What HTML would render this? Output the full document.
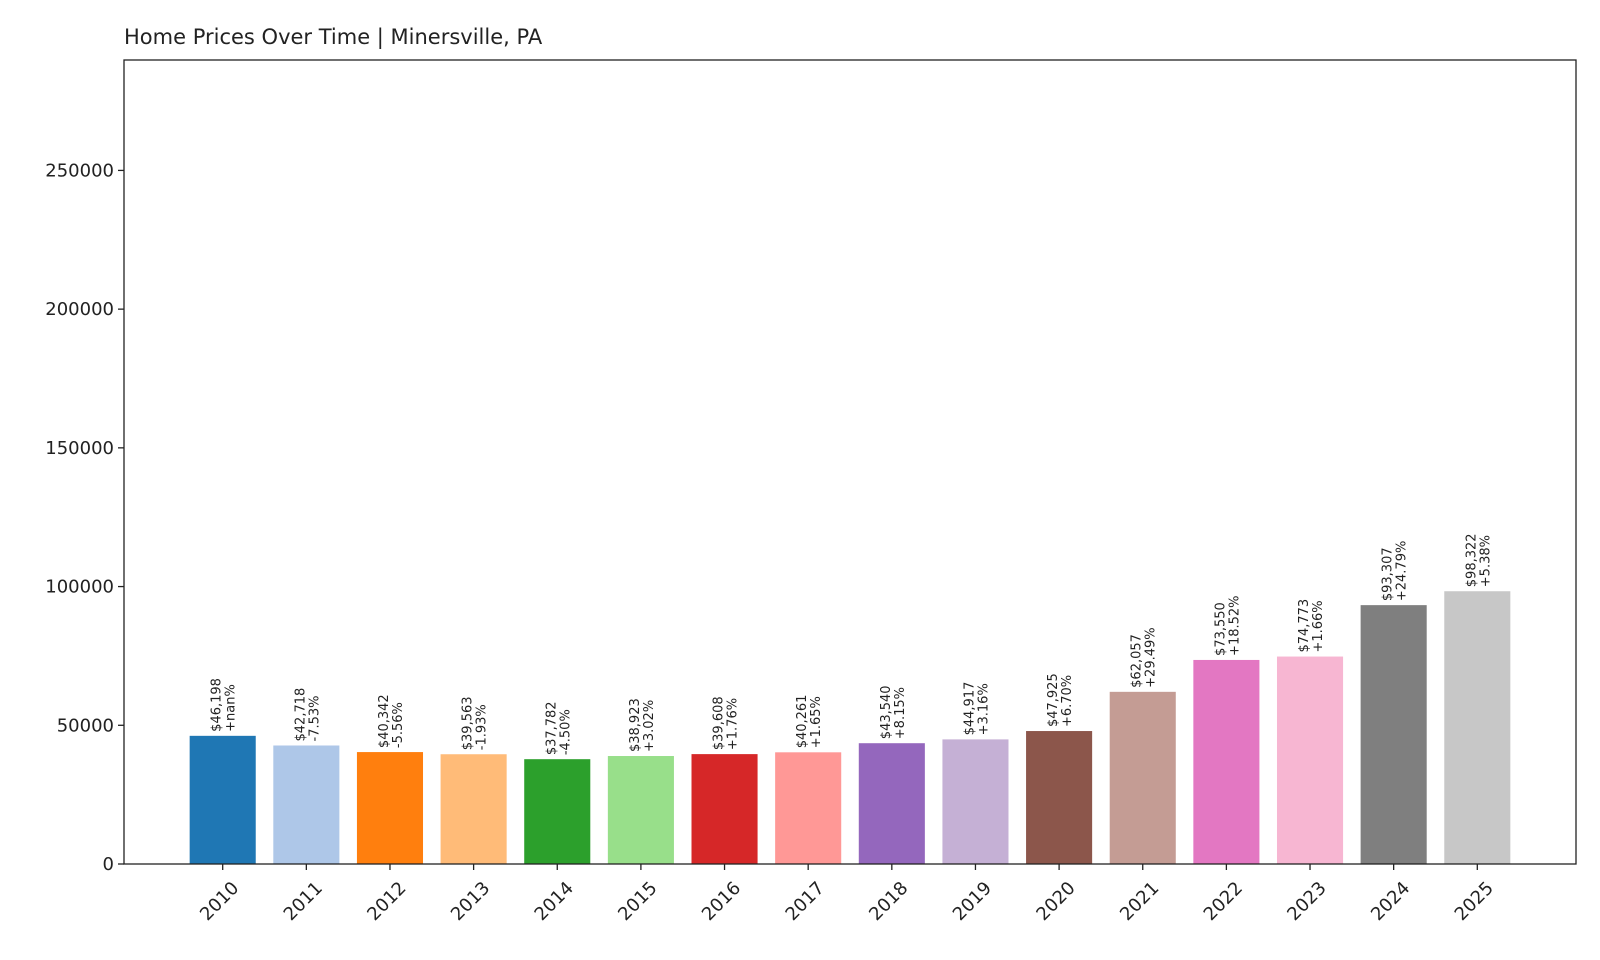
<!DOCTYPE html>
<html><head><meta charset="utf-8"><style>
body{margin:0;background:#fff;}
svg{display:block;font-family:"DejaVu Sans","Liberation Sans",sans-serif;}
</style></head><body>
<svg id="chart" width="1600" height="960">
<text x="124" y="44" font-size="21" fill="#222">Home Prices Over Time | Minersville, PA</text>
<g id="bars"></g>
<g id="yaxis"></g>
<g id="xaxis"></g>
<rect x="124" y="60" width="1452" height="804" fill="none" stroke="#222" stroke-width="1.3"/>
</svg>
<script>
const years=[2010,2011,2012,2013,2014,2015,2016,2017,2018,2019,2020,2021,2022,2023,2024,2025];
const values=[46198,42718,40342,39563,37782,38923,39608,40261,43540,44917,47925,62057,73550,74773,93307,98322];
const changes=["+nan%","-7.53%","-5.56%","-1.93%","-4.50%","+3.02%","+1.76%","+1.65%","+8.15%","+3.16%","+6.70%","+29.49%","+18.52%","+1.66%","+24.79%","+5.38%"];
const yTicks=[0,50000,100000,150000,200000,250000];
const colors=["#1f77b4","#aec7e8","#ff7f0e","#ffbb78","#2ca02c","#98df8a","#d62728","#ff9896","#9467bd","#c5b0d5","#8c564b","#c49c94","#e377c2","#f7b6d2","#7f7f7f","#c7c7c7"];
const NS="http://www.w3.org/2000/svg";
const L=124,R=1576,T=60,B=864,yMax=289800;
const xmin=-1.18,xmax=years.length-1+1.18;
const xs=i=>L+(i-xmin)/(xmax-xmin)*(R-L);
const ys=v=>B-v/yMax*(B-T);
const bw=0.79*(R-L)/(xmax-xmin);
function mk(t,a,p){const e=document.createElementNS(NS,t);for(const k in a)e.setAttribute(k,a[k]);p.appendChild(e);return e;}
const gb=document.getElementById('bars'),gy=document.getElementById('yaxis'),gx=document.getElementById('xaxis');
values.forEach((v,i)=>{
  const r=mk('rect',{x:xs(i)-bw/2,y:ys(v),width:bw,height:B-ys(v),fill:colors[i]},gb);
  
  
  const cx=xs(i),ty=ys(v)-4;
  const t=mk('text',{transform:`translate(${cx},${ty}) rotate(-90)`,'font-size':13,fill:'#222'},gb);
  
  
  const t1=mk('tspan',{x:0,y:-2},t);t1.textContent='$'+v.toLocaleString('en-US');
  const t2=mk('tspan',{x:0,y:12},t);t2.textContent=changes[i];
  const tk=mk('line',{x1:cx,x2:cx,y1:B,y2:B+6,stroke:'#222','stroke-width':1.3},gx);
  
  
  const xl=mk('text',{transform:`translate(${cx+8},${B+16}) rotate(-45)`,'text-anchor':'end','dominant-baseline':'hanging','font-size':18,fill:'#222'},gx);
  xl.textContent=years[i];
  
  
});
yTicks.forEach(v=>{
  const y=ys(v);
  const tk=mk('line',{x1:L-6,x2:L,y1:y,y2:y,stroke:'#222','stroke-width':1.3},gy);
  
  
  const tl=mk('text',{x:L-10,y:y+6,'text-anchor':'end','font-size':18,fill:'#222'},gy);
  tl.textContent=v;
  
  
});
</script>
</body></html>
